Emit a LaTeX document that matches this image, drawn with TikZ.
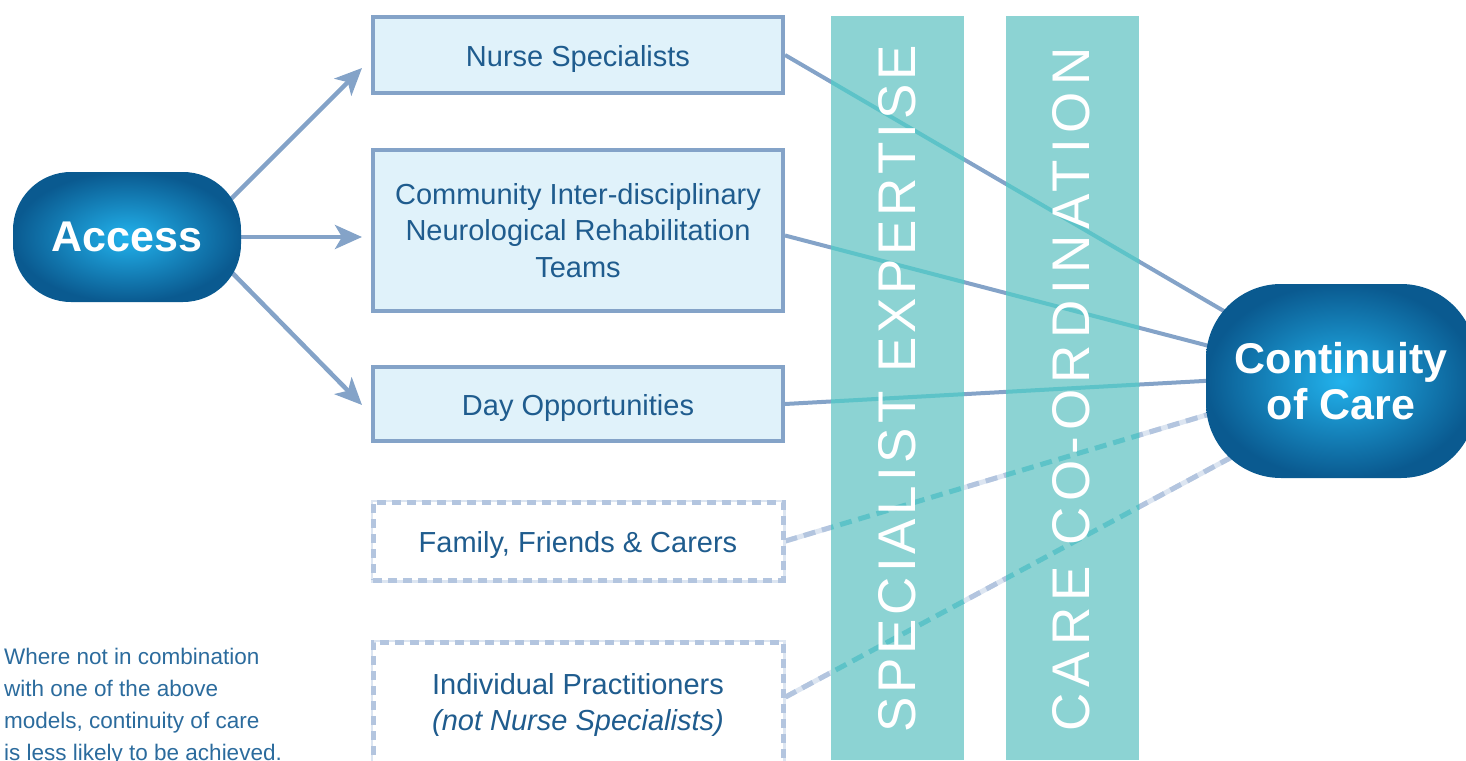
\documentclass[tikz,border=0pt]{standalone}
\usepackage{fontspec}
\setmainfont{Liberation Sans}
\usetikzlibrary{arrows.meta,calc}
\definecolor{edge}{HTML}{84A3C8}
\definecolor{boxfill}{HTML}{E0F2FA}
\definecolor{txt}{HTML}{1F5C8E}
\definecolor{dashcol}{HTML}{B3C5DF}
\definecolor{palecol}{HTML}{DCE5F1}
\definecolor{barcol}{HTML}{8CD3D3}
\definecolor{tealline}{HTML}{5DC3C8}
\definecolor{notecol}{HTML}{2B6B9D}
\definecolor{accin}{HTML}{22B2EC}
\definecolor{accout}{HTML}{0A5A90}
\pgfdeclarelayer{lines}
\pgfdeclarelayer{bars}
\pgfsetlayers{lines,bars,main}
\begin{document}
\begin{tikzpicture}[x=1pt,y=-1pt,
  box/.style={draw=edge, line width=4pt, fill=boxfill, minimum width=410pt, text=txt,
    font=\fontsize{29}{36.5}\selectfont, align=center, inner sep=0pt},
  dbox/.style={draw=dashcol, line width=5pt, dash pattern=on 9pt off 6pt, fill=white,
    preaction={draw=palecol, solid, line width=5pt}, minimum width=410pt, text=txt,
    font=\fontsize{29}{36.5}\selectfont, align=center, inner sep=0pt},
  oneline/.style={text height=26pt, text depth=3pt},
  pill/.style={shading=radial, inner color=accin, outer color=accout, text=white,
    font=\bfseries\fontsize{43}{46}\selectfont, align=center, inner sep=0pt},
  barbox/.style={fill=barcol, inner sep=0pt, minimum width=133pt, minimum height=744pt, anchor=north west},
  bartext/.style={text=white, font=\fontsize{53}{53}\selectfont, rotate=90, anchor=base, inner sep=0pt},
  arr/.style={draw=edge, line width=4.5pt, -{Stealth[length=27pt,width=24pt,inset=7pt]}},
  link/.style={draw=edge, line width=4pt},
  dlink/.style={draw=dashcol, line width=5pt, dash pattern=on 12pt off 7pt, preaction={draw=palecol, solid, line width=5pt}},
  tlink/.style={draw=tealline, line width=4pt},
  tdlink/.style={draw=tealline, line width=5pt, dash pattern=on 12pt off 7pt}
]
\useasboundingbox (0,0) rectangle (1466,760);

% main nodes
\node[pill, minimum width=228pt, minimum height=130pt, rounded corners=58pt] (acc) at (127,237) {Access};
\node[pill, minimum width=270pt, minimum height=194pt, rounded corners=75pt] (cont) at (1341,381) {Continuity\\of Care};

\node[box, oneline, minimum height=76pt] (ns) at (578,55) {Nurse Specialists};
\node[box, minimum height=161pt] (cit) at (578,230.5) {Community Inter-disciplinary\\Neurological Rehabilitation\\Teams};
\node[box, oneline, minimum height=74pt] (day) at (578,404) {Day Opportunities};
\node[dbox, oneline, minimum height=78pt] (fam) at (578,541) {Family, Friends \& Carers};
\node[dbox, minimum height=126pt] (ind) at (578,705) {Individual Practitioners\\\textit{(not Nurse Specialists)}};

\node[anchor=north west, align=left, inner sep=0pt, text=notecol,
  font=\fontsize{22.5}{32}\selectfont] (note) at (4,648)
  {Where not in combination\\with one of the above\\models, continuity of care\\is less likely to be achieved.};

% arrow coordinates
\coordinate (s1) at ($(acc.center)+(73,-7)$);
\coordinate (s3) at ($(acc.center)+(73,3)$);
\coordinate (t1) at ($(ns.west)+(-9,13)$);
\coordinate (t2) at ($(cit.west)+(-9,6.5)$);
\coordinate (t3) at ($(day.west)+(-9,1)$);
% connector ends inside Continuity
\coordinate (e1) at ($(cont.west)+(54,-49)$);
\coordinate (e2) at ($(cont.west)+(34,-27)$);
\coordinate (e3) at ($(cont.west)+(34,-2)$);
\coordinate (e4) at ($(cont.west)+(34,24)$);
\coordinate (e5) at ($(cont.west)+(54,61)$);

\begin{pgfonlayer}{lines}
  \draw[arr] (s1) -- (t1);
  \draw[arr] (acc.center) -- (t2);
  \draw[arr] (s3) -- (t3);
  \draw[link] (ns.east) -- (e1);
  \draw[link] ($(cit.east)+(0,5)$) -- (e2);
  \draw[link] (day.east) -- (e3);
  \draw[dlink] (fam.east) -- (e4);
  \draw[dlink] ($(ind.east)+(0,-8)$) -- (e5);
\end{pgfonlayer}

\begin{pgfonlayer}{bars}
  \node[barbox] (bar1) at (831,16) {};
  \node[barbox] (bar2) at (1006,16) {};
  \begin{scope}
    \clip (bar1.north west) rectangle (bar1.south east)
          (bar2.north west) rectangle (bar2.south east);
    \draw[tlink] (ns.east) -- (e1);
    \draw[tlink] ($(cit.east)+(0,5)$) -- (e2);
    \draw[tlink] (day.east) -- (e3);
    \draw[tdlink] (fam.east) -- (e4);
    \draw[tdlink] ($(ind.east)+(0,-8)$) -- (e5);
  \end{scope}
\end{pgfonlayer}

\node[bartext] (bt1) at (915,389) {\addfontfeature{LetterSpace=7.3}SPECIALIST EXPERTISE};
\node[bartext] (bt2) at (1089,389.5) {\addfontfeature{LetterSpace=11.3}CARE CO-ORDINATION};
\end{tikzpicture}
\end{document}
